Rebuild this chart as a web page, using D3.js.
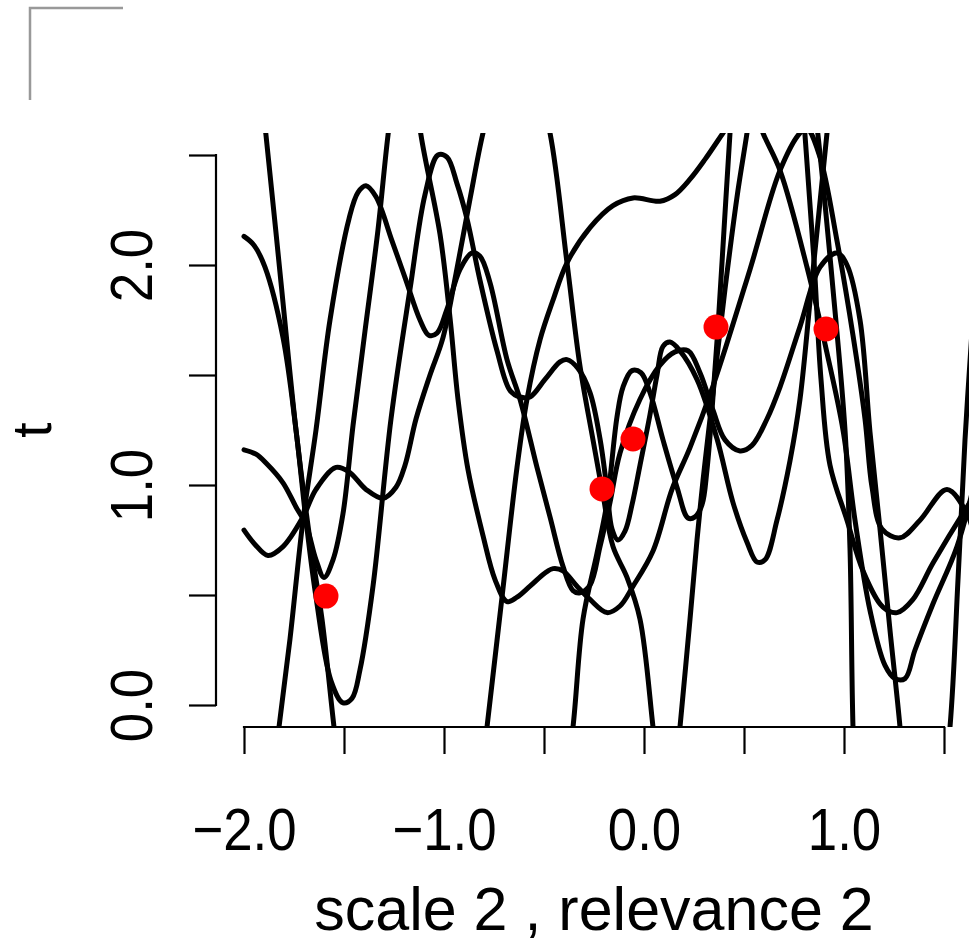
<!DOCTYPE html>
<html><head><meta charset="utf-8">
<script src="https://cdn.jsdelivr.net/npm/d3@7"></script>
<style>html,body{margin:0;padding:0;background:#fff;} svg{display:block;}</style>
</head><body>
<svg id="chart" width="969" height="945"></svg>
<script>
// ---- data ----
const xTicks = [-2, -1.5, -1, -0.5, 0, 0.5, 1, 1.5];
const xTickLabels = ["\u22122.0", "", "\u22121.0", "", "0.0", "", "1.0", ""];
const yTicks = [0, 0.5, 1, 1.5, 2, 2.5];
const yTickLabels = ["0.0", "", "1.0", "", "2.0", ""];
const xLabel = "scale 2 , relevance 2";
const yLabel = "t";

const pointX = [-1.59, -0.21, -0.055, 0.36, 0.91];
const pointY = [0.495, 0.982, 1.209, 1.718, 1.709];

const sample1 = [[-2.00,2.13],[-1.95,2.09],[-1.895,1.99],[-1.805,1.67],[-1.74,1.25],[-1.69,0.84],[-1.64,0.49],[-1.565,0.11],[-1.505,0.01],[-1.46,0.03],[-1.42,0.16],[-1.355,0.54],[-1.265,1.30],[-1.17,1.89],[-1.095,2.32],[-1.03,2.50],[-0.985,2.49],[-0.935,2.37],[-0.885,2.21],[-0.82,1.93],[-0.735,1.61],[-0.67,1.43],[-0.62,1.40],[-0.57,1.40],[-0.495,1.48],[-0.42,1.56],[-0.385,1.57],[-0.33,1.53],[-0.27,1.42],[-0.22,1.21],[-0.185,0.98],[-0.16,0.80],[-0.13,0.75],[-0.095,0.79],[-0.06,0.91],[-0.02,1.09],[0.03,1.32],[0.065,1.50],[0.095,1.63],[0.13,1.65],[0.18,1.61],[0.265,1.48],[0.365,1.21],[0.445,0.92],[0.515,0.74],[0.565,0.65],[0.605,0.66],[0.665,0.84],[0.73,1.11],[0.78,1.39],[0.84,1.93],[0.915,2.60],[0.96,3.02]];
const sample2 = [[-2.00,1.16],[-1.94,1.14],[-1.89,1.10],[-1.805,1.01],[-1.74,0.90],[-1.69,0.82],[-1.64,0.66],[-1.60,0.58],[-1.555,0.66],[-1.505,0.87],[-1.455,1.27],[-1.395,1.70],[-1.33,2.16],[-1.28,2.59],[-1.235,2.89],[-1.195,2.99],[-1.155,2.89],[-1.115,2.59],[-1.02,2.14],[-0.97,1.76],[-0.93,1.39],[-0.88,1.07],[-0.805,0.77],[-0.745,0.57],[-0.685,0.47],[-0.635,0.49],[-0.57,0.54],[-0.495,0.60],[-0.455,0.62],[-0.405,0.61],[-0.335,0.54],[-0.27,0.48],[-0.185,0.42],[-0.12,0.45],[-0.055,0.54],[0.045,0.70],[0.14,0.98],[0.23,1.17],[0.345,1.45],[0.53,1.98],[0.68,2.43],[0.78,2.60],[0.815,2.62],[0.88,2.49],[0.965,2.11],[1.045,1.68],[1.105,1.30],[1.14,0.99],[1.19,0.80],[1.28,0.76],[1.38,0.84],[1.515,0.98],[1.615,0.87],[1.655,0.75]];
const sample3 = [[-2.00,0.795],[-1.945,0.73],[-1.88,0.68],[-1.805,0.72],[-1.705,0.855],[-1.64,0.98],[-1.54,1.08],[-1.475,1.06],[-1.39,0.98],[-1.305,0.94],[-1.24,0.99],[-1.195,1.09],[-1.14,1.30],[-1.07,1.50],[-1.005,1.67],[-0.94,1.96],[-0.87,2.30],[-0.805,2.60],[-0.72,2.89],[-0.64,2.98],[-0.555,2.89],[-0.47,2.60],[-0.385,2.01],[-0.32,1.54],[-0.255,1.205],[-0.205,0.955],[-0.155,0.72],[-0.085,0.58],[-0.02,0.39],[0.045,-0.10],[0.08,-0.39],[0.115,-0.48],[0.155,-0.34],[0.18,-0.10],[0.23,0.39],[0.265,0.75],[0.295,1.02],[0.33,1.30],[0.405,1.89],[0.47,2.34],[0.515,2.60],[0.58,3.02],[0.705,3.30],[0.805,3.07],[0.87,2.59],[0.945,1.89],[1.005,1.25],[1.03,0.71],[1.045,-0.10],[1.07,-0.66],[1.155,-1.02],[1.305,-1.11],[1.455,-0.71],[1.53,-0.10],[1.57,0.57],[1.605,1.205],[1.64,1.70]];
const sample4 = [[-2.0,-1.05],[-1.92,-0.70],[-1.87,-0.40],[-1.825,-0.10],[-1.77,0.30],[-1.705,0.84],[-1.64,1.25],[-1.57,1.75],[-1.475,2.21],[-1.43,2.33],[-1.39,2.36],[-1.34,2.31],[-1.26,2.11],[-1.19,1.93],[-1.12,1.75],[-1.075,1.68],[-1.035,1.69],[-0.985,1.80],[-0.92,1.98],[-0.86,2.055],[-0.82,2.04],[-0.77,1.92],[-0.685,1.57],[-0.62,1.39],[-0.535,1.08],[-0.47,0.855],[-0.405,0.63],[-0.355,0.52],[-0.32,0.51],[-0.27,0.545],[-0.22,0.72],[-0.17,0.92],[-0.12,1.145],[-0.02,1.39],[0.08,1.545],[0.155,1.605],[0.22,1.61],[0.28,1.51],[0.345,1.34],[0.405,1.205],[0.48,1.155],[0.54,1.18],[0.615,1.30],[0.68,1.445],[0.78,1.72],[0.88,1.99],[0.965,2.055],[1.015,2.00],[1.08,1.75],[1.13,1.24],[1.18,0.80],[1.23,0.34],[1.28,-0.10],[1.305,-0.39]];
const sample5 = [[-2.0,3.45],[-1.945,3.02],[-1.89,2.59],[-1.815,1.92],[-1.74,1.25],[-1.67,0.75],[-1.61,0.39],[-1.55,-0.10],[-1.495,-0.52],[-1.35,-1.2],[-1.15,-1.55],[-0.95,-1.2],[-0.85,-0.6],[-0.785,-0.10],[-0.71,0.49],[-0.635,1.08],[-0.585,1.39],[-0.52,1.66],[-0.455,1.84],[-0.385,2.01],[-0.27,2.17],[-0.155,2.27],[-0.055,2.305],[0.08,2.29],[0.155,2.32],[0.23,2.39],[0.305,2.48],[0.395,2.60],[0.455,2.68],[0.52,2.75],[0.56,2.70],[0.595,2.60],[0.68,2.43],[0.815,1.99],[0.915,1.60],[0.995,1.25],[1.055,0.84],[1.13,0.43],[1.205,0.18],[1.255,0.12],[1.305,0.12],[1.355,0.25],[1.445,0.46],[1.565,0.72],[1.655,1.02]];
const sample6 = [[-0.50,-1.00],[-0.42,-0.55],[-0.355,-0.10],[-0.305,0.39],[-0.235,0.69],[-0.185,0.92],[-0.135,1.31],[-0.105,1.445],[-0.06,1.52],[-0.015,1.51],[0.03,1.42],[0.095,1.205],[0.165,0.99],[0.22,0.85],[0.255,0.855],[0.29,0.91],[0.315,1.07],[0.34,1.34],[0.37,1.72],[0.40,2.16],[0.43,2.60],[0.48,3.25],[0.555,3.70],[0.63,3.89],[0.705,3.70],[0.765,3.2],[0.805,2.59],[0.85,2.02],[0.885,1.48],[0.93,1.09],[1.015,0.84],[1.095,0.61],[1.195,0.445],[1.265,0.42],[1.345,0.48],[1.445,0.645],[1.615,0.90],[1.655,0.955]];
const samples = [sample1, sample2, sample3, sample4, sample5, sample6];

// ---- drawing ----
const svg = d3.select("#chart");
const FONT = "'Liberation Sans', Arial, Helvetica, sans-serif";
const x = d3.scaleLinear().domain([-2.14, 1.64]).range([216, 972]);
const y = d3.scaleLinear().domain([-0.1, 2.6]).range([727, 133]);

svg.append("rect").attr("width", 969).attr("height", 945).attr("fill", "#fff");

// grey corner mark
svg.append("path").attr("d", "M30,100V8H123").attr("fill", "none")
  .attr("stroke", "#999").attr("stroke-width", 2.5);

svg.append("defs").append("clipPath").attr("id", "plotclip").append("rect")
  .attr("x", x(-2.14)).attr("y", y(2.6))
  .attr("width", x(1.64) - x(-2.14)).attr("height", y(-0.1) - y(2.6));

const line = d3.line().x(d => x(d[0])).y(d => y(d[1])).curve(d3.curveCatmullRom.alpha(0.5));

const plot = svg.append("g").attr("clip-path", "url(#plotclip)");
plot.selectAll("path.sample").data(samples).join("path").attr("class", "sample")
  .attr("d", line).attr("fill", "none").attr("stroke", "#000")
  .attr("stroke-width", 5).attr("stroke-linejoin", "round").attr("stroke-linecap", "round");
plot.selectAll("circle").data(pointX.map((v, i) => [v, pointY[i]])).join("circle")
  .attr("cx", d => x(d[0])).attr("cy", d => y(d[1])).attr("r", 12.5).attr("fill", "#ff0000");

// x axis
const xAxis = d3.axisBottom(x).tickValues(xTicks).tickSize(27).tickSizeOuter(0)
  .tickFormat((d, i) => xTickLabels[i]);
const gx = svg.append("g").attr("transform", `translate(0,${y(-0.1)})`).call(xAxis);
gx.attr("font-size", 60).attr("font-family", FONT);
gx.select(".domain").remove();
gx.append("line").attr("x1", x(xTicks[0])).attr("x2", x(xTicks[xTicks.length - 1]))
  .attr("stroke", "#000").attr("stroke-width", 2.2).attr("stroke-linecap", "square");
gx.selectAll(".tick line").attr("stroke", "#000").attr("stroke-width", 2.2);
gx.selectAll(".tick text").attr("y", 0).attr("dy", null).attr("fill", "#000")
  .attr("transform", "translate(0,123) scale(0.88,1)");

// y axis
const yAxis = d3.axisLeft(y).tickValues(yTicks).tickSize(27).tickSizeOuter(0)
  .tickFormat((d, i) => yTickLabels[i]);
const gy = svg.append("g").attr("transform", `translate(${x(-2.14)},0)`).call(yAxis);
gy.attr("font-size", 60).attr("font-family", FONT);
gy.select(".domain").remove();
gy.append("line").attr("y1", y(yTicks[0])).attr("y2", y(yTicks[yTicks.length - 1]))
  .attr("stroke", "#000").attr("stroke-width", 2.2).attr("stroke-linecap", "square");
gy.selectAll(".tick line").attr("stroke", "#000").attr("stroke-width", 2.2);
gy.selectAll(".tick text").attr("x", 0).attr("dy", null).attr("text-anchor", "middle")
  .attr("transform", "translate(-64,0) rotate(-90) scale(0.88,1)").attr("fill", "#000");

// axis titles
svg.append("text").attr("x", (x(-2.14) + x(1.64)) / 2).attr("y", 930)
  .attr("text-anchor", "middle").attr("font-family", FONT).attr("font-size", 61)
  .attr("fill", "#000").text(xLabel);
svg.append("text").attr("transform", `translate(51,${(y(-0.1) + y(2.6)) / 2}) rotate(-90)`)
  .attr("text-anchor", "middle").attr("font-family", FONT).attr("font-size", 55)
  .attr("fill", "#000").text(yLabel);
</script>
</body></html>
